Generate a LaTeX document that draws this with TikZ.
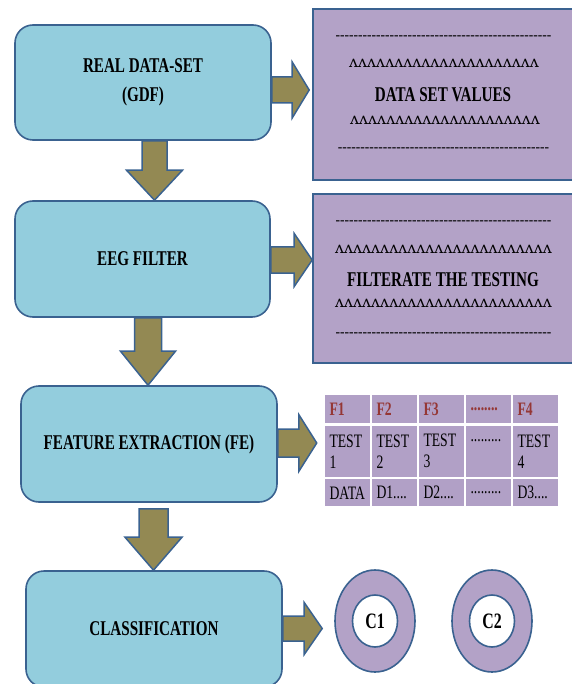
\documentclass[tikz,border=0pt]{standalone}
\usepackage{fontspec}
\setmainfont[FakeStretch=0.72]{Liberation Serif}
\newfontfamily\dashfont{Liberation Serif}
\newfontfamily\zigfont{DejaVu Serif}
\usetikzlibrary{calc,shapes.geometric}
\ExplSyntaxOn
\NewExpandableDocumentCommand\myrep{mm}{\prg_replicate:nn{#1}{#2}}
\ExplSyntaxOff
\definecolor{boxblue}{HTML}{93CDDD}
\definecolor{edgeblue}{HTML}{3A6290}
\definecolor{boxpurple}{HTML}{B3A2C7}
\definecolor{cellpurple}{HTML}{B1A0C6}
\definecolor{arrowolive}{HTML}{938953}
\definecolor{darkred}{HTML}{953735}
% from, to, xoff, gap, headlen, shafthalf, headhalf
\newcommand\downblock[7]{%
 \draw[blockarrow] let \p1=(#1), \p2=(#2) in
  ({\x1+(#3)*1pt-#6pt},{\y1-#4pt}) -- ({\x1+(#3)*1pt-#6pt},{\y2+#5pt}) --
  ({\x1+(#3)*1pt-#7pt},{\y2+#5pt}) -- ({\x1+(#3)*1pt},{\y2}) --
  ({\x1+(#3)*1pt+#7pt},{\y2+#5pt}) -- ({\x1+(#3)*1pt+#6pt},{\y2+#5pt}) --
  ({\x1+(#3)*1pt+#6pt},{\y1-#4pt}) -- cycle;}
% from, to, ydown, endgap, headlen, shafthalf, headhalf
\newcommand\rightblock[7]{%
 \draw[blockarrow] let \p1=(#1), \p2=(#2) in
  ({\x1},{\y1-(#3)*1pt+#6pt}) -- ({\x2-(#4)*1pt-#5pt},{\y1-(#3)*1pt+#6pt}) --
  ({\x2-(#4)*1pt-#5pt},{\y1-(#3)*1pt+#7pt}) -- ({\x2-(#4)*1pt},{\y1-(#3)*1pt}) --
  ({\x2-(#4)*1pt-#5pt},{\y1-(#3)*1pt-#7pt}) -- ({\x2-(#4)*1pt-#5pt},{\y1-(#3)*1pt-#6pt}) --
  ({\x1},{\y1-(#3)*1pt-#6pt}) -- cycle;}
\tikzset{
 bluebox/.style={draw=edgeblue, line width=1.6pt, fill=boxblue, rounded corners=18pt,
   inner sep=0pt, align=center, font=\bfseries\fontsize{21}{29}\selectfont},
 purplebox/.style={draw=edgeblue, line width=1.6pt, fill=boxpurple, inner sep=0pt},
 blockarrow/.style={draw=edgeblue, line width=1.5pt, fill=arrowolive, line join=miter},
 dashrow/.style={inner sep=0pt, font=\dashfont\bfseries\fontsize{13.5}{16}\selectfont},
 zigrow/.style={inner sep=0pt, font=\zigfont\fontsize{16}{18}\selectfont},
 ptext/.style={inner sep=0pt, font=\bfseries\fontsize{21}{24}\selectfont},
 cell/.style={draw=white, line width=2.5pt, fill=cellpurple, inner xsep=5.5pt, inner ysep=0pt,
   text width=36pt, align=left, minimum width=47pt, font=\fontsize{19}{21}\selectfont},
 hcell/.style={cell, minimum height=30.5pt, text=darkred, font=\bfseries\fontsize{19}{21}\selectfont},
 mcell/.style={cell, minimum height=53.5pt},
 lcell/.style={cell, minimum height=29.5pt},
 ring/.style={ellipse, draw=edgeblue, line width=1.6pt, fill=boxpurple,
   minimum width=80pt, minimum height=102pt, inner sep=0pt},
 core/.style={ellipse, draw=edgeblue, line width=1.6pt, fill=white,
   minimum width=45pt, minimum height=52pt, inner sep=0pt, font=\bfseries\fontsize{22}{22}\selectfont}
}
\begin{document}
\begin{tikzpicture}[x=1pt,y=-1pt]
\useasboundingbox (0,0) rectangle (571,684);
% left process boxes
\node[bluebox, minimum width=256pt, minimum height=115pt] (b1) at (143,82.5) {REAL DATA-SET\\(GDF)};
\node[bluebox, minimum width=255pt, minimum height=116pt] (b2) at (142.5,259) {EEG FILTER};
\node[bluebox, minimum width=256pt, minimum height=116pt] (b3) at (149,444) {FEATURE EXTRACTION (FE)};
\node[bluebox, minimum width=256pt, minimum height=116pt] (b4) at (154,629) {CLASSIFICATION};
% purple box A
\node[purplebox, minimum width=260pt, minimum height=171pt] (pa) at (443,94.5) {};
\node[dashrow] (pa1) at (443.5,38) {\myrep{48}{-\kern0pt}};
\node[zigrow] (pa2) at (444,63) {\myrep{21}{ʌ}};
\node[ptext] (pa3) at (443,95) {DATA SET VALUES};
\node[zigrow] (pa4) at (445,120) {\myrep{21}{ʌ}};
\node[dashrow] (pa5) at (443.5,150) {\myrep{47}{-\kern0pt}};
% purple box B
\node[purplebox, minimum width=260pt, minimum height=169pt] (pb) at (443,278.5) {};
\node[dashrow] (pb1) at (443.5,223) {\myrep{48}{-\kern0pt}};
\node[zigrow] (pb2) at (443.5,249) {\myrep{24}{ʌ}};
\node[ptext] (pb3) at (443,280) {FILTERATE THE TESTING};
\node[zigrow] (pb4) at (443.5,303) {\myrep{24}{ʌ}};
\node[dashrow] (pb5) at (443.5,335) {\myrep{48}{-\kern0pt}};
% table
\node[hcell] (t11) at (347.5,409) {F1};
\node[hcell] (t12) at (394.5,409) {F2};
\node[hcell] (t13) at (441.5,409) {F3};
\node[hcell] (t14) at (488.5,409) {........};
\node[hcell] (t15) at (535.5,409) {F4};
\node[mcell] (t21) at (347.5,451.25) {TEST\\1};
\node[mcell] (t22) at (394.5,451.25) {TEST\\2};
\node[mcell] (t23) at (441.5,451.25) {TEST\\3};
\node[mcell] (t24) at (488.5,451.25) {.........\\\mbox{}};
\node[mcell] (t25) at (535.5,451.25) {TEST\\4};
\node[lcell] (t31) at (347.5,492.75) {DATA};
\node[lcell] (t32) at (394.5,492.75) {D1....};
\node[lcell] (t33) at (441.5,492.75) {D2....};
\node[lcell] (t34) at (488.5,492.75) {.........};
\node[lcell] (t35) at (535.5,492.75) {D3....};
% classes
\node[ring] (c1) at (375,621) {};
\node[core] (c1i) at (c1) {C1};
\node[ring] (c2) at (492,621) {};
\node[core] (c2i) at (c2) {C2};
% block arrows
\downblock{b1.south}{b2.north}{11.5}{0}{30}{12.5}{28}
\downblock{b2.south}{b3.north}{5.5}{0}{34}{13.5}{27.5}
\downblock{b3.south}{b4.north}{4.5}{6}{33}{14.5}{28.5}
\rightblock{b1.east}{pa.west}{7.5}{3}{17}{13}{28}
\rightblock{b2.east}{pb.west}{1}{0}{18}{13}{26.5}
\rightblock{b3.east}{t21.west}{-1}{6}{18}{14}{28.5}
\rightblock{b4.east}{c1.west}{-0.5}{12}{18}{12.5}{26}
\end{tikzpicture}
\end{document}
